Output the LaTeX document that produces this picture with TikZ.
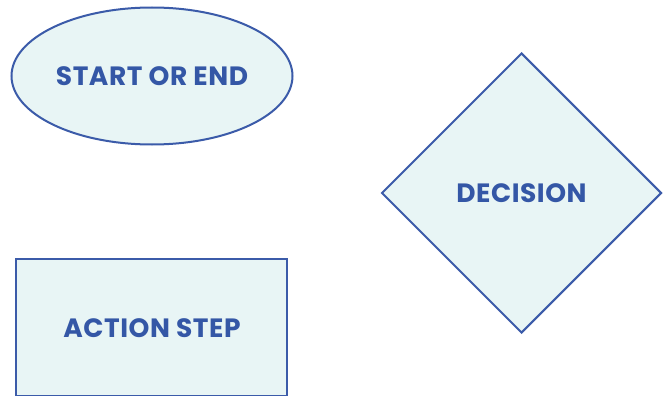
\documentclass[tikz,border=0pt]{standalone}
\usepackage{fontspec}
\setmainfont{Poppins}[LetterSpace=2]
\usetikzlibrary{shapes.geometric}
\definecolor{edge}{HTML}{3B5BA9}
\definecolor{fillc}{HTML}{E8F5F5}
\definecolor{txt}{HTML}{3457A6}
\tikzset{
  lbl/.style={font=\fontsize{26.5}{30}\selectfont\bfseries, text=txt},
  shapebox/.style={draw=edge, fill=fillc, line width=2pt, inner sep=0pt, lbl},
}
\begin{document}
\begin{tikzpicture}[x=1pt,y=-1pt]
\useasboundingbox (0,0) rectangle (667,396);
\node[shapebox, ellipse, minimum width=281pt, minimum height=137pt] (start) at (152,76) {START OR END};
\node[shapebox, diamond, minimum width=280pt, minimum height=280pt] (dec) at (521.5,193) {DECISION};
\node[shapebox, rectangle, minimum width=271pt, minimum height=137pt] (act) at (151.5,327) {};
\node[lbl] (actlabel) at (152,328) {ACTION STEP};
\end{tikzpicture}
\end{document}
